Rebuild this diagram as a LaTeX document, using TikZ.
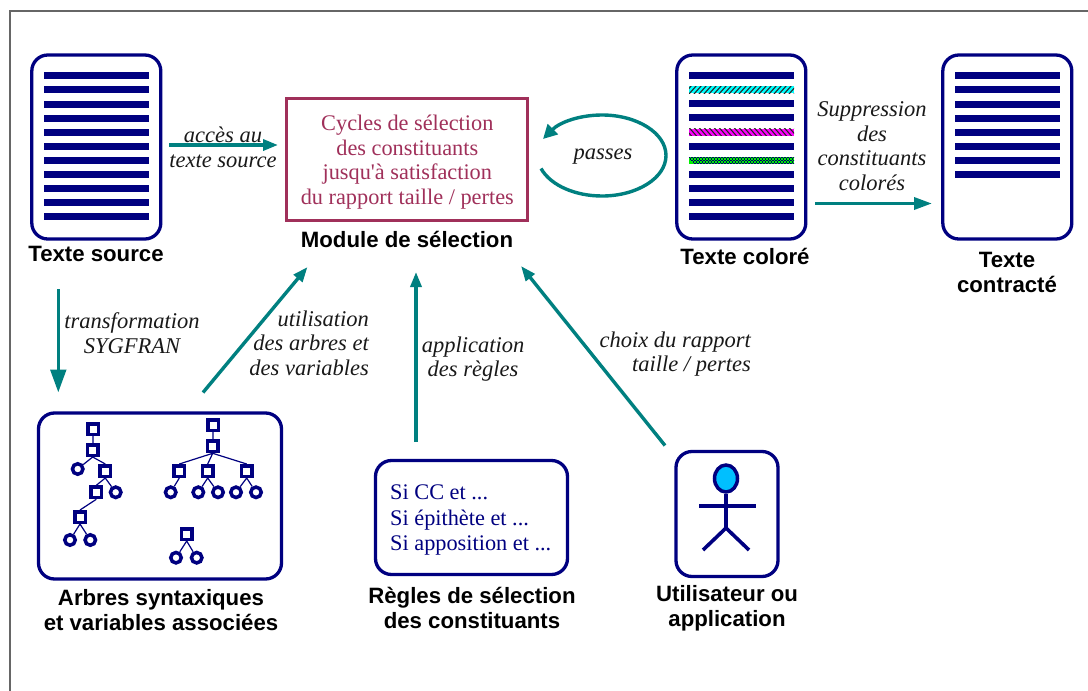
\documentclass[tikz,border=0pt]{standalone}
\usepackage{fontspec}
\setmainfont[Ligatures=TeXOff]{Liberation Serif}
\newfontfamily\labelfont{Liberation Sans}
\usetikzlibrary{arrows.meta,shapes.geometric}
\definecolor{navyb}{HTML}{000080}
\definecolor{tealb}{HTML}{008080}
\definecolor{maroonb}{HTML}{A0305A}
\definecolor{skyb}{HTML}{00BFFF}
\definecolor{cyanb}{HTML}{00FFFF}
\definecolor{magb}{HTML}{FF00FF}
\definecolor{grnb}{HTML}{00F000}
\tikzset{
  x=1pt,y=-1pt,
  panel/.style={draw=navyb,line width=3.3pt,rounded corners=16pt,fill=white,inner sep=0pt},
  docpanel/.style={panel,minimum width=129pt,minimum height=184pt},
  modbox/.style={draw=maroonb,line width=3.2pt,fill=white,inner sep=0pt,minimum width=241pt,minimum height=122.5pt},
  modtext/.style={text=maroonb,font=\fontsize{22.3}{24.7}\selectfont,align=center,inner sep=0pt},
  caption/.style={font=\labelfont\bfseries\fontsize{22.2}{25}\selectfont,align=center,inner sep=0pt,text=black},
  note/.style={font=\itshape\fontsize{22.5}{24.5}\selectfont,align=center,inner sep=0pt,text=black!90},
  noter/.style={note,align=right,anchor=east},
  flow/.style={draw=tealb,line width=3.4pt,-{Triangle[length=15pt,width=11pt]}},
  bigflow/.style={draw=tealb,line width=3.6pt,-{Triangle[length=23pt,width=15.5pt]}},
  wideflow/.style={draw=tealb,line width=3.4pt,-{Triangle[length=18pt,width=12pt]}},
  loopflow/.style={draw=tealb,line width=3.4pt,-{Triangle[length=14pt,width=14pt]}},
  bar/.style={fill=navyb,draw=none},
  sq/.style={draw=navyb,line width=3.5pt,fill=white,minimum size=10.5pt,inner sep=0pt,rectangle},
  rd/.style={draw=navyb,line width=3.5pt,fill=white,minimum size=10.5pt,inner sep=0pt,circle},
  tlink/.style={draw=navyb,line width=1.2pt},
  limb/.style={draw=navyb,line width=3.6pt},
}
\newcommand{\barrow}[2]{\fill[bar] (#1,#2-3.5) rectangle (#1+105,#2+3.5);}
\begin{document}
\begin{tikzpicture}
\useasboundingbox (0,0) rectangle (1088,691);
\fill[white] (0,0) rectangle (1088,691);
\draw[draw=black!60,line width=1.2pt] (10,691) -- (10,11) -- (1088,11);

% Document panels
\node[docpanel] (src) at (96.3,147) {};
\node[docpanel] (col) at (741.3,147) {};
\node[docpanel] (ctr) at (1007.3,147) {};
\foreach \y in {75.5,89.5,104.5,118.5,132.5,146.5,160,174.5,188.5,202.5,216.5} {\barrow{44}{\y}}
\foreach \y in {75.5,103.7,117.5,146.3,174,188,202.5,216.5} {\barrow{689}{\y}}
\foreach \y in {75.5,89.5,104.5,118.5,132.5,146.5,160,174.5} {\barrow{955}{\y}}
% coloured bars
\fill[cyanb] (689,86) rectangle (794,93);
\begin{scope}
\clip (689,86) rectangle (794,93);
\foreach \i in {0,5,...,115} {\draw[black!85,line width=1.1pt] (684+\i,94) -- (692+\i,85);}
\end{scope}
\fill[magb] (689,128.5) rectangle (794,135.5);
\begin{scope}
\clip (689,128.5) rectangle (794,135.5);
\foreach \i in {0,5,...,115} {\draw[black!85,line width=1.1pt] (684+\i,127.5) -- (692+\i,136.5);}
\end{scope}
\fill[grnb] (689,156.5) rectangle (794,163.5);
\begin{scope}
\clip (689,156.5) rectangle (794,163.5);
\foreach \i in {0,1,...,35} {\foreach \j in {0,1,2,3,4} {
  \fill[navyb!80!black] (688+\i*3+\j*1.5,156.5+\j*1.5) rectangle +(1.5,1.5);}}
\end{scope}

% Module
\node[modbox] (mod) at (407.3,159.5) {};
\node[modtext] (modt) at (407.3,162) {Cycles de sélection\\des constituants\\jusqu'à satisfaction\\du rapport taille / pertes};

% Tree panel
\node[panel,minimum width=243pt,minimum height=166pt] (trees) at (160,496) {};
\node[sq] (a1) at (93.3,429) {};
\node[sq] (a2) at (92.7,450) {};
\node[sq] (a3) at (105.3,471) {};
\node[sq] (a4) at (96.3,492.3) {};
\node[sq] (a5) at (80,517) {};
\node[rd] (a6) at (77.7,469) {};
\node[rd] (a7) at (115.7,492.3) {};
\node[rd] (a8) at (70,540) {};
\node[rd] (a9) at (90.3,540) {};
\draw[tlink] (a1)--(a2) (a2.south)--(a6) (a2.south)--(a3.north) (a3.south)--(a4.north) (a3.south)--(a7) (a4.south)--(a5.north) (a5.south)--(a8) (a5.south)--(a9);
\node[sq] (b1) at (213.3,425) {};
\node[sq] (b2) at (212.7,446.3) {};
\node[sq] (b3) at (179.3,471) {};
\node[sq] (b4) at (207.7,471) {};
\node[sq] (b5) at (246.7,471) {};
\node[rd] (b6) at (170.7,492.3) {};
\node[rd] (b7) at (198.3,492.3) {};
\node[rd] (b8) at (218,492.3) {};
\node[rd] (b9) at (236,492.3) {};
\node[rd] (b10) at (256,492.3) {};
\draw[tlink] (b1)--(b2) (b2.south)--(b3.north) (b2.south)--(b4.north) (b2.south)--(b5.north) (b3.south)--(b6) (b4.south)--(b7) (b4.south)--(b8) (b5.south)--(b9) (b5.south)--(b10);
\node[sq] (c1) at (186.7,534) {};
\node[rd] (c2) at (176,557.7) {};
\node[rd] (c3) at (196.7,557.7) {};
\draw[tlink] (c1.south)--(c2) (c1.south)--(c3);

% Rules panel
\node[panel,minimum width=192pt,minimum height=114pt] (rules) at (471.5,517.5) {};
\node[inner sep=0pt,align=left,text=navyb,font=\fontsize{22.3}{25.5}\selectfont,anchor=west] (rulest) at (390,520) {Si CC et ...\\Si épithète et ...\\Si apposition et ...};

% User panel
\node[panel,minimum width=102pt,minimum height=125pt] (user) at (727,514) {};
\node[draw=navyb,line width=3.5pt,fill=skyb,ellipse,minimum width=23pt,minimum height=27pt,inner sep=0pt] (head) at (726,478.5) {};
\coordinate (hip) at (726,528);
\coordinate (handl) at (699,506);
\coordinate (handr) at (756,506);
\coordinate (footl) at (703,550);
\coordinate (footr) at (749,550);
\draw[limb] (head) -- (hip);
\draw[limb] (handl) -- (handr);
\draw[limb] (footl) -- (hip) -- (footr);

% Captions
\node[caption] (csrc) at (96,254) {Texte source};
\node[caption] (ccol) at (745,256.5) {Texte coloré};
\node[caption] (cctr) at (1007,272) {Texte\\contracté};
\node[caption] (cmod) at (407,239) {Module de sélection};
\node[caption] (ctrees) at (161,610.5) {Arbres syntaxiques\\et variables associées};
\node[caption] (crules) at (472,608) {Règles de sélection\\des constituants};
\node[caption] (cuser) at (727,608) {Utilisateur ou\\application};

% Connectors
\coordinate (p1) at (169,145); \coordinate (q1) at (278,145);
\coordinate (p2) at (815,203.5); \coordinate (q2) at (932,203.5);
\coordinate (p3) at (58.3,289);  \coordinate (q3) at (58.3,392.5);
\coordinate (p4) at (203,392.5); \coordinate (q4) at (307.5,267);
\coordinate (p5) at (416,442); \coordinate (q5) at (416,272);
\coordinate (p6) at (665,445.5); \coordinate (q6) at (521,266);
\draw[flow] (p1) -- (q1);
\draw[wideflow] (p2) -- (q2);
\draw[bigflow] (p3) -- (q3);
\draw[flow] (p4) -- (q4);
\draw[flow] (p5) -- (q5);
\draw[flow] (p6) -- (q6);
\coordinate (loops) at (541,168.5);
\coordinate (loope) at (543,139);
\draw[loopflow] (loops) .. controls (551,186) and (576,196) .. (602,196) .. controls (637,196) and (666,178) .. (666,155.5) .. controls (666,133) and (637,115) .. (602,115) .. controls (580,115) and (560,122) .. (loope);

% Notes
\node[note] (n1) at (223,147) {accès au\\[0.5pt]texte source};
\node[note] (n2) at (872,146) {Suppression\\des\\constituants\\colorés};
\node[note] (n3) at (132,333) {transformation\\SYGFRAN};
\node[noter] (n4) at (369,343) {utilisation\\des arbres et\\des variables};
\node[note] (n5) at (473,359) {application\\des règles};
\node[noter] (n6) at (751,354) {choix du rapport\\taille / pertes};
\node[note] (n7) at (603,157) {passes};
\end{tikzpicture}
\end{document}
